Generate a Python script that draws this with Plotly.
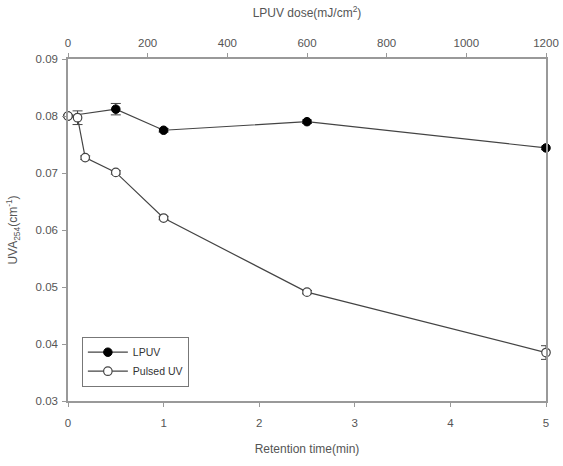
import plotly.graph_objects as go

# Data
lpuv_dose = [0, 120, 240, 600, 1200]
lpuv_uva = [0.0800, 0.0812, 0.0775, 0.0790, 0.0744]
lpuv_err = [0.0, 0.0010, 0.0003, 0.0003, 0.0003]

pulsed_time = [0, 0.1, 0.18, 0.5, 1.0, 2.5, 5.0]
pulsed_uva = [0.0800, 0.0797, 0.0727, 0.0701, 0.0621, 0.0491, 0.0385]
pulsed_err = [0.0, 0.0012, 0.0003, 0.0003, 0.0003, 0.0003, 0.0012]

x_ticks = [0, 1, 2, 3, 4, 5]
x2_ticks = [0, 200, 400, 600, 800, 1000, 1200]
y_ticks = [0.03, 0.04, 0.05, 0.06, 0.07, 0.08, 0.09]

line_col = "#444444"
axis_col = "#999999"
font_col = "#555555"
FONT = "Liberation Sans, Arial, sans-serif"

fig = go.Figure()

fig.add_trace(go.Scatter(
    x=lpuv_dose, y=lpuv_uva, xaxis="x2", yaxis="y",
    mode="lines+markers", name="LPUV", cliponaxis=False,
    line=dict(color=line_col, width=1.2),
    marker=dict(symbol="circle", size=8.5, color="black", line=dict(color="black", width=1)),
    error_y=dict(type="data", array=lpuv_err, visible=True, color=line_col, thickness=1, width=5),
))

fig.add_trace(go.Scatter(
    x=pulsed_time, y=pulsed_uva, xaxis="x", yaxis="y",
    mode="lines+markers", name="Pulsed UV", cliponaxis=False,
    line=dict(color=line_col, width=1.2),
    marker=dict(symbol="circle", size=8.5, color="white", line=dict(color=line_col, width=1.2)),
    error_y=dict(type="data", array=pulsed_err, visible=True, color=line_col, thickness=1, width=5),
))

common_axis = dict(
    showline=True, linecolor=axis_col, linewidth=1.5,
    ticks="outside", ticklen=4, tickcolor=axis_col, tickwidth=1,
    showgrid=False, zeroline=False, automargin=False,
    tickfont=dict(family=FONT, size=11.5, color=font_col),
)

fig.update_layout(
    width=563, height=466,
    margin=dict(l=68, r=17, t=59, b=65),
    paper_bgcolor="white", plot_bgcolor="white",
    font=dict(family=FONT, color=font_col),
    xaxis2=dict(
        **common_axis, range=[0, 1200], tickvals=x2_ticks,
        side="top", anchor="y", ticklabelstandoff=2,
        title=dict(text="LPUV dose(mJ/cm<sup>2</sup>)", font=dict(family=FONT, size=12, color=font_col), standoff=16),
    ),
    xaxis=dict(
        **common_axis, range=[0, 5], tickvals=x_ticks,
        overlaying="x2", side="bottom", anchor="y", ticklabelstandoff=6,
        title=dict(text="Retention time(min)", font=dict(family=FONT, size=12, color=font_col), standoff=17),
    ),
    yaxis=dict(
        **common_axis, range=[0.03, 0.09], tickvals=y_ticks, tickformat=".2f",
        mirror=True, ticklabelstandoff=2,
        title=dict(text="UVA<sub>254</sub>(cm<sup>-1</sup>)", font=dict(family=FONT, size=12, color=font_col), standoff=15),
    ),
    legend=dict(
        x=0.029, y=0.188, xanchor="left", yanchor="top",
        bgcolor="white", bordercolor="#777777", borderwidth=1,
        font=dict(family=FONT, size=10.5, color="#333333"),
        itemwidth=40, tracegroupgap=0,
    ),
    showlegend=True,
)

fig.write_html("out.html")
